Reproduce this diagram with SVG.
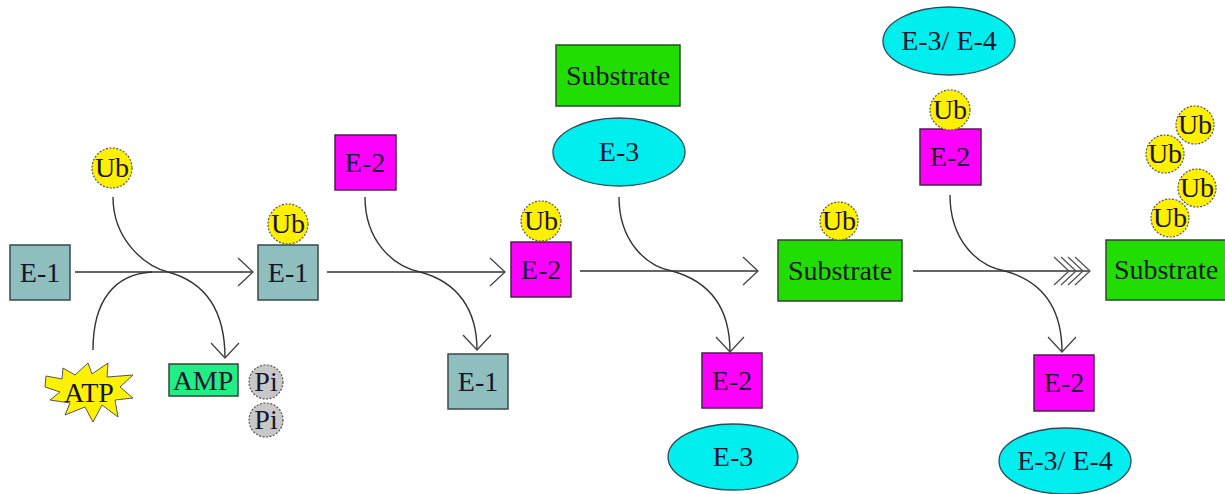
<svg xmlns="http://www.w3.org/2000/svg" width="1225" height="494" viewBox="0 0 1225 494">
  <defs>
    <marker id="open" markerUnits="userSpaceOnUse" markerWidth="40" markerHeight="40" viewBox="-20 -20 40 40" refX="0" refY="0" orient="auto">
      <path d="M-15,-14 L0,0 L-15,14" fill="none" stroke="#444" stroke-width="1.3"/>
    </marker>
    <marker id="multi" markerUnits="userSpaceOnUse" markerWidth="80" markerHeight="50" viewBox="-60 -25 80 50" refX="0" refY="0" orient="auto">
      <g fill="none" stroke="#555" stroke-width="1.3">
        <path d="M-15,-14 L0,0 L-15,14"/>
        <path d="M-22,-14 L-7,0 L-22,14"/>
        <path d="M-29,-14 L-14,0 L-29,14"/>
        <path d="M-36,-14 L-21,0 L-36,14"/>
      </g>
    </marker>
  </defs>
  <style>
    .lbl { font-family: "Liberation Serif", "Times New Roman", "DejaVu Serif", serif; font-size: 28px; fill: #15152e; text-anchor: middle; }
    .e1 { fill: #8fbebe; stroke: #3a4a4a; stroke-width: 1.5; }
    .e2 { fill: #ff00ff; stroke: #4a224a; stroke-width: 1.5; }
    .sub { fill: #22dd00; stroke: #2a4a2a; stroke-width: 1.5; }
    .e3 { fill: #00eeee; stroke: #2a4a5a; stroke-width: 1.3; }
    .ub { fill: #fff000; stroke: #555; stroke-width: 1.2; stroke-dasharray: 2 1.5; }
    .pi { fill: #c8c8c8; stroke: #555; stroke-width: 1.2; stroke-dasharray: 2 1.5; }
    .amp { fill: #22ee88; stroke: #2a4a3a; stroke-width: 1.5; }
    .atp { fill: #fff200; stroke: #555; stroke-width: 1; }
    .line { fill: none; stroke: #333; stroke-width: 1.4; }
  </style>

  <!-- reaction arrows and curved side arrows -->
  <g id="connectors">
    <path class="line" d="M75,272 L253,272" marker-end="url(#open)"/>
    <path class="line" d="M327,272 L505,272" marker-end="url(#open)"/>
    <path class="line" d="M580,271 L758,271" marker-end="url(#open)"/>
    <path class="line" d="M913,271 L1090,271" marker-end="url(#multi)"/>
    <path class="line" d="M93,350 C93,300 115,274 152,272"/>
    <path class="line" d="M113,197 C113,240 145,266 168,272 C205,282 225,310 225,358" marker-end="url(#open)"/>
    <path class="line" d="M365,197 C365,240 392,266 420,272 C458,282 477,310 477,350" marker-end="url(#open)"/>
    <path class="line" d="M619,197 C619,240 645,266 672,271 C712,282 730,310 730,352" marker-end="url(#open)"/>
    <path class="line" d="M950,195 C950,240 977,266 1005,271 C1045,282 1062,310 1062,352" marker-end="url(#open)"/>
  </g>

  <g class="lbl" font-family="Liberation Serif, Times New Roman, DejaVu Serif, serif">
  <!-- step 1: activation of E-1 -->
  <g id="e1-start">
    <rect class="e1" x="10" y="245" width="60" height="55"/>
    <text class="lbl" x="40" y="282">E-1</text>
  </g>
  <g id="ub-free">
    <circle class="ub" cx="112" cy="168" r="20"/>
    <text class="lbl" x="112" y="177">Ub</text>
  </g>
  <g id="atp">
    <polygon class="atp" points="46,376 62,379 63,368 75,375 88,363 92,374 108,363 107,377 133,375 120,387 133,398 115,400 118,417 102,405 93,422 85,407 65,415 70,403 50,400 60,392 45,387"/>
    <text class="lbl" x="89" y="402">ATP</text>
  </g>
  <g id="amp">
    <rect class="amp" x="169" y="364" width="69" height="32"/>
    <text class="lbl" x="203" y="390">AMP</text>
  </g>
  <g id="pi-1">
    <circle class="pi" cx="266" cy="382" r="17"/>
    <text class="lbl" x="266" y="391">Pi</text>
  </g>
  <g id="pi-2">
    <circle class="pi" cx="266" cy="420" r="17"/>
    <text class="lbl" x="266" y="429">Pi</text>
  </g>

  <!-- step 2: E-1~Ub and transfer to E-2 -->
  <g id="e1-ub">
    <rect class="e1" x="258" y="245" width="60" height="55"/>
    <text class="lbl" x="288" y="282">E-1</text>
    <circle class="ub" cx="288" cy="224" r="20"/>
    <text class="lbl" x="288" y="233">Ub</text>
  </g>
  <g id="e2-in">
    <rect class="e2" x="335" y="135" width="61" height="55"/>
    <text class="lbl" x="365" y="172">E-2</text>
  </g>
  <g id="e1-out">
    <rect class="e1" x="448" y="354" width="60" height="55"/>
    <text class="lbl" x="478" y="391">E-1</text>
  </g>

  <!-- step 3: E-2~Ub with E-3 and substrate -->
  <g id="e2-ub">
    <rect class="e2" x="511" y="242" width="60" height="55"/>
    <text class="lbl" x="541" y="279">E-2</text>
    <circle class="ub" cx="541" cy="221" r="20"/>
    <text class="lbl" x="541" y="230">Ub</text>
  </g>
  <g id="substrate-in">
    <rect class="sub" x="556" y="45" width="124" height="61"/>
    <text class="lbl" x="618" y="85">Substrate</text>
  </g>
  <g id="e3-in">
    <ellipse class="e3" cx="619" cy="152" rx="66" ry="34"/>
    <text class="lbl" x="619" y="161">E-3</text>
  </g>
  <g id="e2-out">
    <rect class="e2" x="702" y="353" width="60" height="55"/>
    <text class="lbl" x="732" y="390">E-2</text>
  </g>
  <g id="e3-out">
    <ellipse class="e3" cx="733" cy="457" rx="65" ry="33"/>
    <text class="lbl" x="733" y="466">E-3</text>
  </g>

  <!-- step 4: mono-ubiquitinated substrate to poly-ubiquitin chain -->
  <g id="substrate-ub">
    <rect class="sub" x="778" y="240" width="124" height="61"/>
    <text class="lbl" x="840" y="280">Substrate</text>
    <circle class="ub" cx="839" cy="221" r="19"/>
    <text class="lbl" x="839" y="230">Ub</text>
  </g>
  <g id="e34-in">
    <ellipse class="e3" cx="949" cy="41" rx="66" ry="34"/>
    <text class="lbl" x="949" y="50">E-3/ E-4</text>
  </g>
  <g id="e2-ub-2">
    <rect class="e2" x="920" y="129" width="61" height="56"/>
    <text class="lbl" x="950" y="166">E-2</text>
    <circle class="ub" cx="950" cy="110" r="20"/>
    <text class="lbl" x="950" y="119">Ub</text>
  </g>
  <g id="e2-out-2">
    <rect class="e2" x="1034" y="355" width="60" height="56"/>
    <text class="lbl" x="1064" y="392">E-2</text>
  </g>
  <g id="e34-out">
    <ellipse class="e3" cx="1065" cy="461" rx="66" ry="33"/>
    <text class="lbl" x="1065" y="470">E-3/ E-4</text>
  </g>
  <g id="substrate-polyub">
    <rect class="sub" x="1106" y="240" width="120" height="60"/>
    <text class="lbl" x="1166" y="279">Substrate</text>
    <circle class="ub" cx="1170" cy="218" r="19"/>
    <text class="lbl" x="1170" y="227">Ub</text>
    <circle class="ub" cx="1197" cy="188" r="19"/>
    <text class="lbl" x="1197" y="197">Ub</text>
    <circle class="ub" cx="1165" cy="154" r="19"/>
    <text class="lbl" x="1165" y="163">Ub</text>
    <circle class="ub" cx="1195" cy="125" r="19"/>
    <text class="lbl" x="1195" y="134">Ub</text>
  </g>
  </g>
</svg>
